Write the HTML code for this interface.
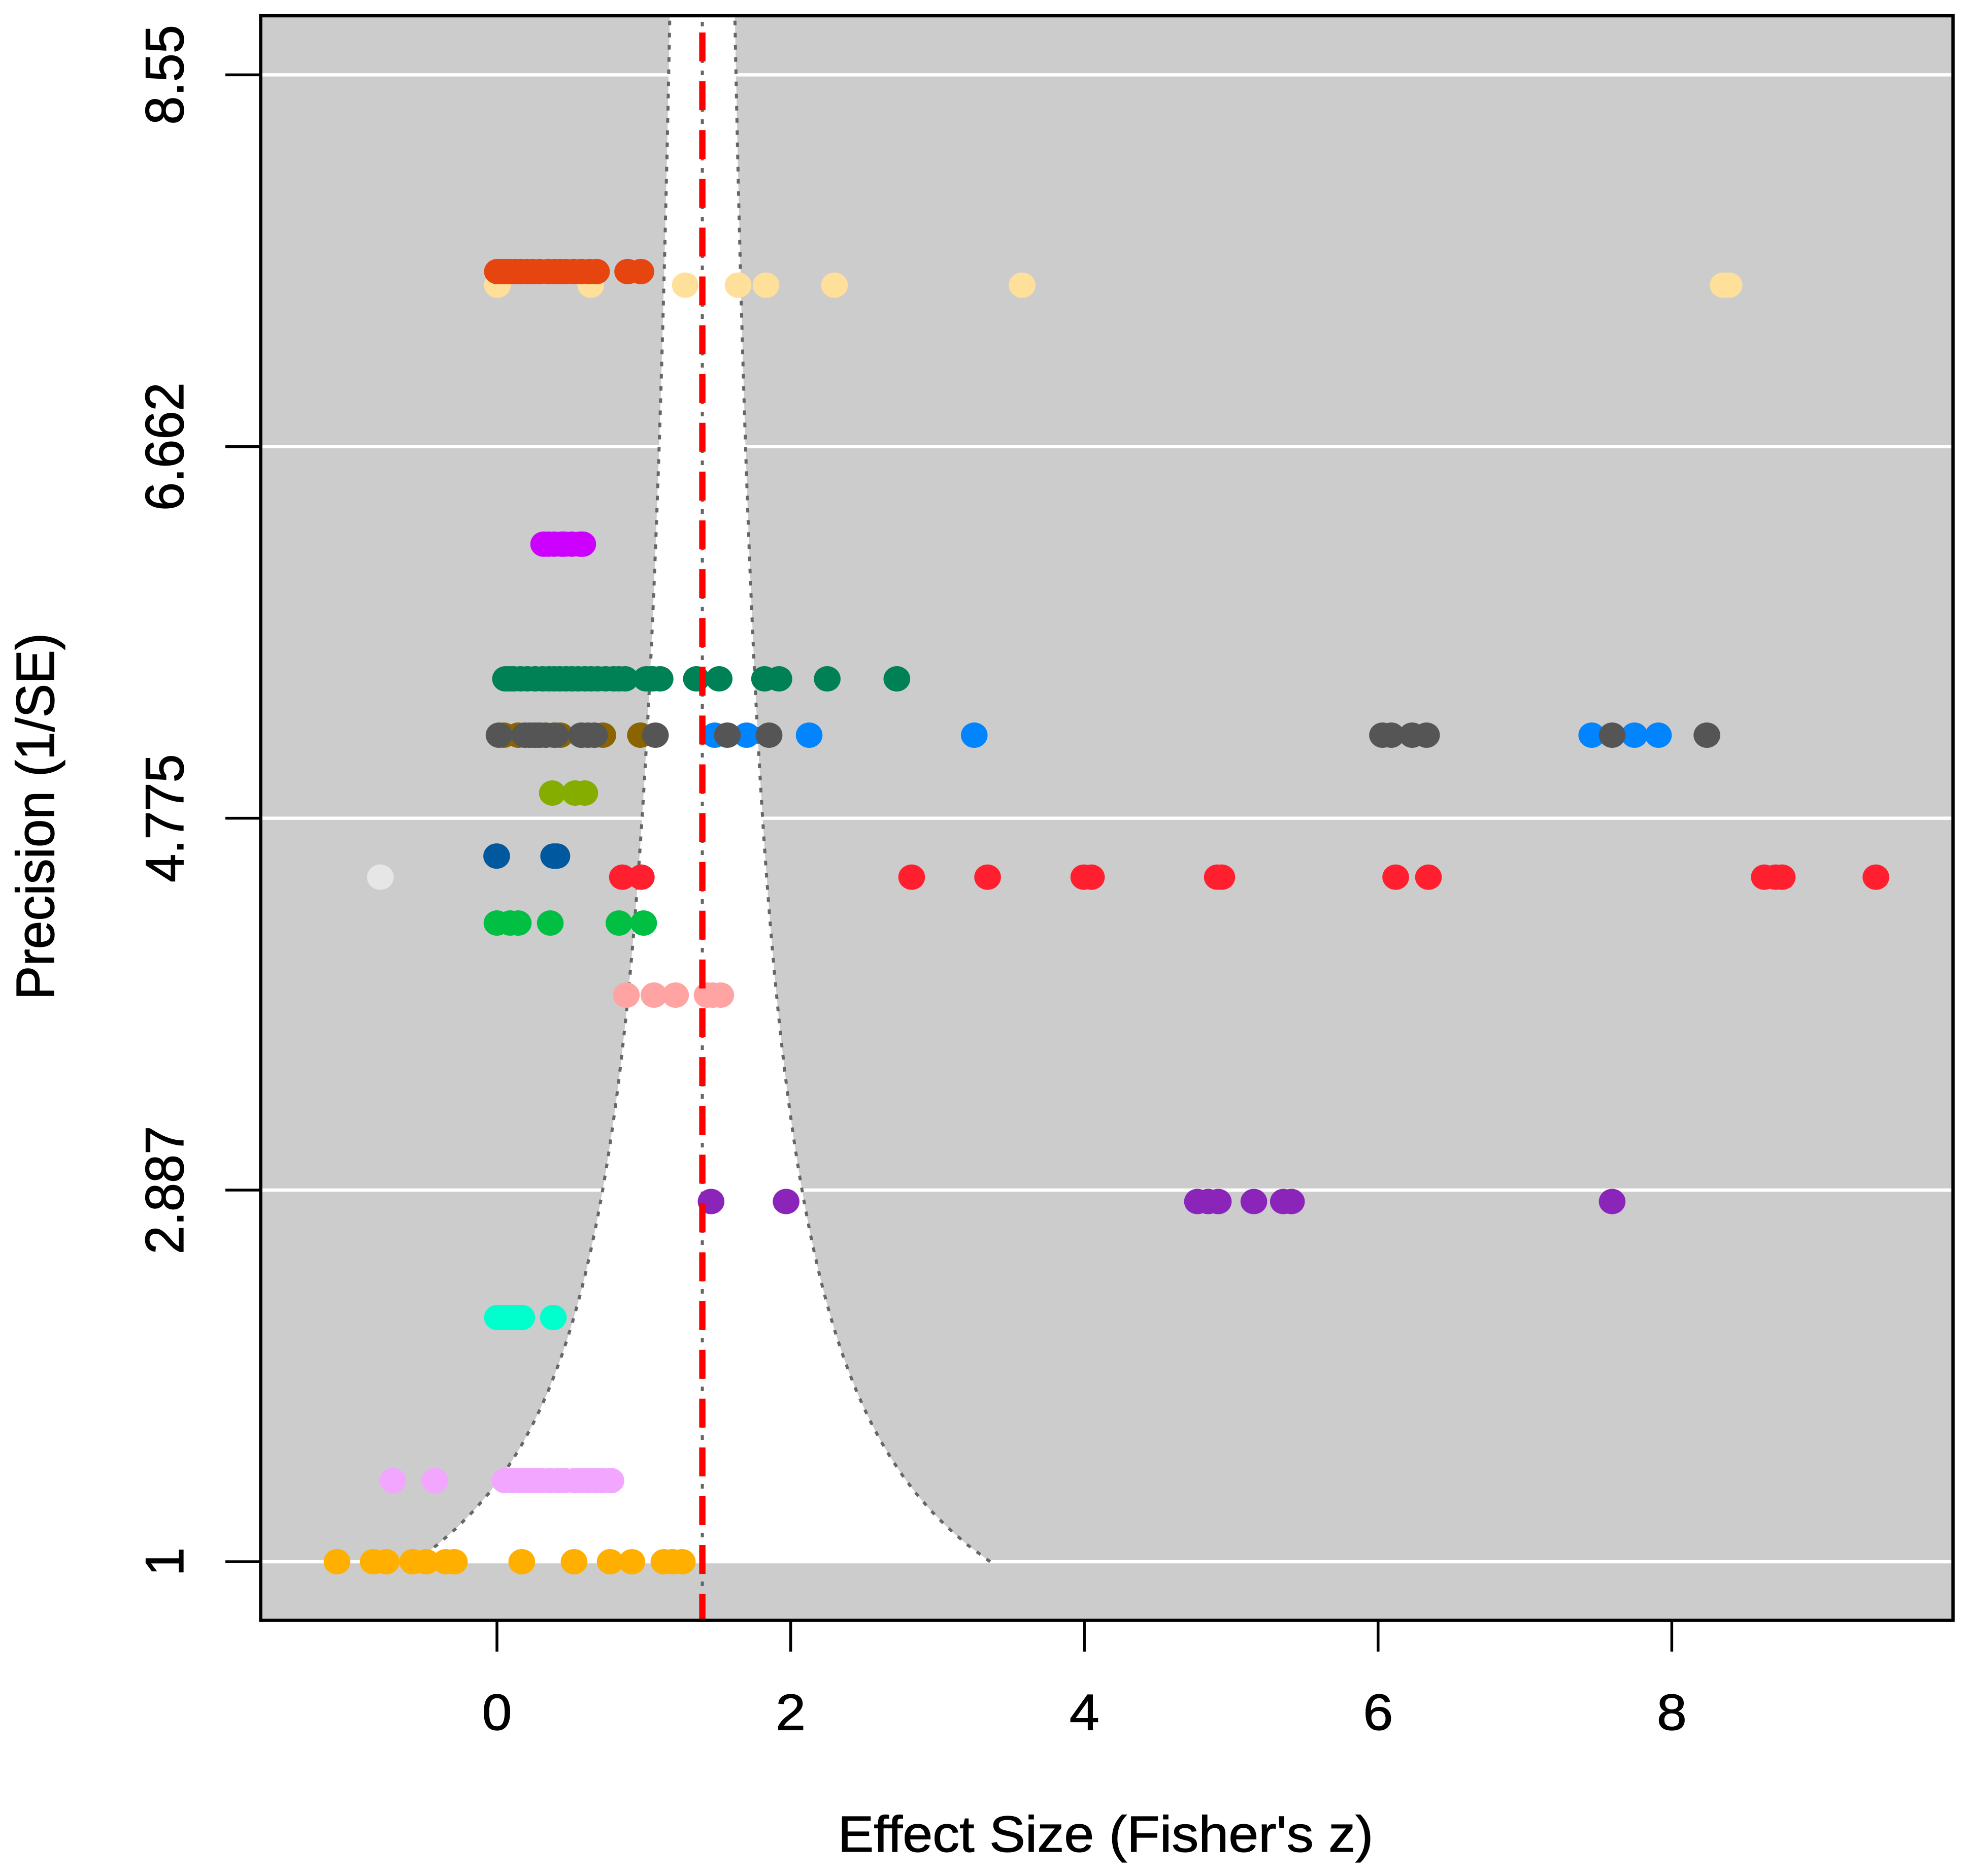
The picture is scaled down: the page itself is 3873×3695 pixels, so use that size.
<!DOCTYPE html>
<html lang="en">
<head>
<meta charset="utf-8">
<title>Funnel plot: Effect Size vs Precision</title>
<style>
  html, body { margin: 0; padding: 0; background: #ffffff; }
  svg { display: block; }
  text { font-family: "Liberation Sans", Arial, sans-serif; fill: #000000; stroke: #000000; stroke-width: 1.2px; }
</style>
</head>
<body>
<svg id="chart" xmlns="http://www.w3.org/2000/svg" width="3873" height="3695" viewBox="0 0 3873 3695">
  <rect x="0" y="0" width="3873" height="3695" fill="#ffffff"/>
  <defs>
    <clipPath id="plot-clip"><rect x="513" y="30" width="3335" height="3162"/></clipPath>
  </defs>
  <rect x="513" y="30" width="3335" height="3162" fill="#cccccc"/>
  <g id="grid"></g>
  <g id="funnel" clip-path="url(#plot-clip)"></g>
  <g id="points" clip-path="url(#plot-clip)"></g>
  <g id="refline" clip-path="url(#plot-clip)"></g>
  <rect x="513.5" y="31" width="3334" height="3160.5" fill="none" stroke="#000000" stroke-width="6.5"/>
  <g id="x-axis"></g>
  <g id="y-axis"></g>
  <text transform="translate(2178,3647) scale(1.06,1)" font-size="100" text-anchor="middle">Effect Size (Fisher's z)</text>
  <text transform="translate(106,1608) scale(1.06,1) rotate(-90)" font-size="100" text-anchor="middle">Precision (1/SE)</text>
</svg>
<script>
// ---- axis labels ----
const xTickValues = [0, 2, 4, 6, 8];
const yTickLabels = ["1", "2.887", "4.775", "6.662", "8.55"];

// ---- meta-analytic summary ----
const meanEffect = [1.3985];
const criticalValue = [1.96];

// ---- study series: effect sizes (Fisher's z) and precision (1/SE) ----
const wheatX = [0.003, 0.639, 1.282, 1.642, 1.832, 2.298, 3.576, 8.35, 8.39];
const wheatP = [7.482];
const orangeRedX = [0.003, 0.03, 0.059, 0.09, 0.124, 0.16, 0.204, 0.242, 0.29, 0.349, 0.39, 0.429, 0.47, 0.522, 0.574, 0.63, 0.678, 0.89, 0.98];
const orangeRedP = [7.551];
const magentaX = [0.318, 0.349, 0.39, 0.442, 0.46, 0.51, 0.567, 0.584];
const magentaP = [6.167];
const darkGreenX = [0.058, 0.086, 0.113, 0.16, 0.207, 0.26, 0.311, 0.355, 0.39, 0.428, 0.47, 0.51, 0.553, 0.598, 0.64, 0.685, 0.74, 0.795, 0.83, 0.873, 1.016, 1.06, 1.111, 1.358, 1.513, 1.822, 1.92, 2.249, 2.723];
const darkGreenP = [5.483];
const brownX = [0.047, 0.145, 0.222, 0.277, 0.387, 0.432, 0.721, 0.977];
const brownP = [5.197];
const blueX = [0.575, 1.483, 1.7, 2.126, 3.25, 7.455, 7.746, 7.909];
const blueP = [5.197];
const charcoalX = [0.014, 0.19, 0.225, 0.256, 0.295, 0.332, 0.399, 0.575, 0.62, 0.664, 1.079, 1.569, 1.853, 6.03, 6.09, 6.232, 6.33, 7.594, 8.239];
const charcoalP = [5.197];
const oliveX = [0.377, 0.532, 0.598];
const oliveP = [4.903];
const navyX = [-0.002, 0.386, 0.408];
const navyP = [4.583];
const lightGrayX = [-0.794];
const lightGrayP = [4.476];
const redX = [0.854, 0.983, 2.824, 3.341, 3.996, 4.048, 4.905, 4.936, 6.12, 6.343, 8.63, 8.707, 8.752, 9.39];
const redP = [4.476];
const greenX = [0.0, 0.09, 0.145, 0.363, 0.831, 0.999];
const greenP = [4.243];
const pinkX = [0.881, 1.069, 1.216, 1.431, 1.471, 1.524];
const pinkP = [3.877];
const purpleX = [1.458, 1.969, 4.77, 4.843, 4.912, 5.154, 5.355, 5.41, 7.594];
const purpleP = [2.829];
const aquaX = [0.003, 0.03, 0.052, 0.085, 0.118, 0.145, 0.169, 0.384];
const aquaP = [2.24];
const orchidX = [-0.709, -0.423, 0.054, 0.1, 0.15, 0.2, 0.25, 0.3, 0.36, 0.42, 0.46, 0.53, 0.58, 0.62, 0.67, 0.72, 0.776];
const orchidP = [1.412];
const orangeX = [-1.089, -0.843, -0.754, -0.574, -0.481, -0.349, -0.29, 0.169, 0.525, 0.771, 0.919, 1.137, 1.196, 1.262];
const orangeP = [1.0];

// ---- axis functions ----
function xScale(v) { return 979 + v * 289.3; }
function yScale(v) { return 3076 - (v - 1) * 387.9; }
function yInvert(py) { return 1 + (3076 - py) / 387.9; }

const NS = 'http://www.w3.org/2000/svg';
function make(tag, parent) {
  const el = document.createElementNS(NS, tag);
  parent.appendChild(el);
  return el;
}

// gridlines and y axis
const gridGroup = document.getElementById('grid');
const yAxisGroup = document.getElementById('y-axis');
yTickLabels.forEach(function (label) {
  const y = yScale(parseFloat(label));
  const grid = make('line', gridGroup);
  
  
  grid.setAttribute('x1', 513); grid.setAttribute('x2', 3848);
  grid.setAttribute('y1', y); grid.setAttribute('y2', y);
  grid.setAttribute('stroke', '#ffffff'); grid.setAttribute('stroke-width', 6.5);

  const tick = make('line', yAxisGroup);
  
  
  tick.setAttribute('x1', 444); tick.setAttribute('x2', 513);
  tick.setAttribute('y1', y); tick.setAttribute('y2', y);
  tick.setAttribute('stroke', '#000000'); tick.setAttribute('stroke-width', 5.5);

  const text = make('text', yAxisGroup);
  
  
  text.setAttribute('transform', 'translate(361,' + y + ') scale(1.06,1) rotate(-90)');
  text.setAttribute('font-size', 101);
  text.setAttribute('text-anchor', 'middle');
  text.textContent = label;
});

// x axis
const xAxisGroup = document.getElementById('x-axis');
xTickValues.forEach(function (v) {
  const x = xScale(v);
  const tick = make('line', xAxisGroup);
  
  
  tick.setAttribute('x1', x); tick.setAttribute('x2', x);
  tick.setAttribute('y1', 3192); tick.setAttribute('y2', 3253);
  tick.setAttribute('stroke', '#000000'); tick.setAttribute('stroke-width', 5.5);

  const text = make('text', xAxisGroup);
  
  
  text.setAttribute('transform', 'translate(' + x + ',3407) scale(1.06,1)');
  text.setAttribute('font-size', 100);
  text.setAttribute('text-anchor', 'middle');
  text.textContent = String(v);
});

// funnel: white region and dotted limits from the summary effect
const funnelGroup = document.getElementById('funnel');
const mu = meanEffect[0];
const crit = criticalValue[0];
const pMin = 1;
const pMax = yInvert(30);
const steps = 90;
const leftPts = [];
const rightPts = [];
for (let i = 0; i <= steps; i++) {
  const p = pMin + (pMax - pMin) * i / steps;
  const y = yScale(p);
  leftPts.push(xScale(mu - crit / p).toFixed(1) + ',' + y.toFixed(1));
  rightPts.push(xScale(mu + crit / p).toFixed(1) + ',' + y.toFixed(1));
}
const baseY = yScale(pMin) + 3;
const region = make('polygon', funnelGroup);


region.setAttribute('points',
  xScale(mu - crit / pMin).toFixed(1) + ',' + baseY + ' ' + leftPts.join(' ') + ' ' +
  rightPts.slice().reverse().join(' ') + ' ' + xScale(mu + crit / pMin).toFixed(1) + ',' + baseY);
region.setAttribute('fill', '#ffffff');

const leftLimit = make('polyline', funnelGroup);


leftLimit.setAttribute('points', leftPts.join(' '));
const rightLimit = make('polyline', funnelGroup);


rightLimit.setAttribute('points', rightPts.join(' '));
[leftLimit, rightLimit].forEach(function (l) {
  l.setAttribute('fill', 'none');
  l.setAttribute('stroke', '#666666');
  l.setAttribute('stroke-width', 6);
  l.setAttribute('stroke-dasharray', '9 15');
});

const centerDotted = make('line', funnelGroup);


centerDotted.setAttribute('x1', xScale(mu)); centerDotted.setAttribute('x2', xScale(mu));
centerDotted.setAttribute('y1', 43); centerDotted.setAttribute('y2', 3192);
centerDotted.setAttribute('stroke', '#666666');
centerDotted.setAttribute('stroke-width', 6);
centerDotted.setAttribute('stroke-dasharray', '9 15');

// points
const pointsGroup = document.getElementById('points');
function drawSeries(name, xs, ps, color) {
  const g = make('g', pointsGroup);
  
  
  g.setAttribute('fill', color);
  xs.forEach(function (v) {
    const e = make('ellipse', g);
    
    
    e.setAttribute('cx', xScale(v));
    e.setAttribute('cy', yScale(ps[0]));
    e.setAttribute('rx', 26.3);
    e.setAttribute('ry', 25);
  });
}
drawSeries('series-wheat', wheatX, wheatP, '#FFE09B');
drawSeries('series-orange-red', orangeRedX, orangeRedP, '#E64510');
drawSeries('series-magenta', magentaX, magentaP, '#CC00FF');
drawSeries('series-dark-green', darkGreenX, darkGreenP, '#008055');
drawSeries('series-brown', brownX, brownP, '#8B6400');
drawSeries('series-blue', blueX, blueP, '#0084FF');
drawSeries('series-charcoal', charcoalX, charcoalP, '#555555');
drawSeries('series-olive', oliveX, oliveP, '#84AD00');
drawSeries('series-navy', navyX, navyP, '#00589F');
drawSeries('series-light-gray', lightGrayX, lightGrayP, '#E6E6E6');
drawSeries('series-red', redX, redP, '#FF1F2E');
drawSeries('series-green', greenX, greenP, '#00BF42');
drawSeries('series-pink', pinkX, pinkP, '#FFA3A3');
drawSeries('series-purple', purpleX, purpleP, '#8B24B8');
drawSeries('series-aqua', aquaX, aquaP, '#00FFCC');
drawSeries('series-orchid', orchidX, orchidP, '#F2A6FF');
drawSeries('series-orange', orangeX, orangeP, '#FFAF00');

// red dashed reference line
const refGroup = document.getElementById('refline');
const refLine = make('line', refGroup);


refLine.setAttribute('x1', xScale(mu)); refLine.setAttribute('x2', xScale(mu));
refLine.setAttribute('y1', 64); refLine.setAttribute('y2', 3192);
refLine.setAttribute('stroke', '#FF0000');
refLine.setAttribute('stroke-width', 12.5);
refLine.setAttribute('stroke-dasharray', '57 39.1');
</script>
</body>
</html>
